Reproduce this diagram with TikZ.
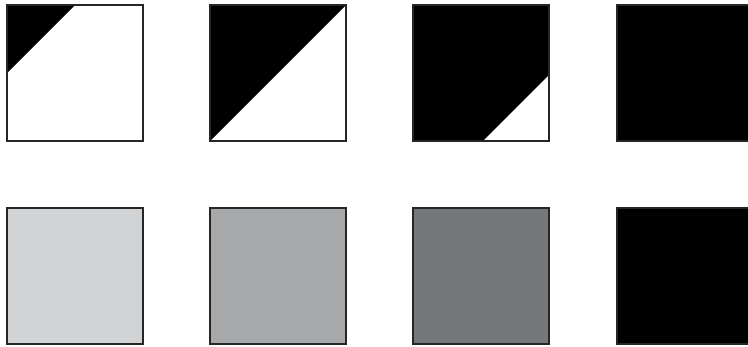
\documentclass[tikz,border=0pt]{standalone}
\usepackage{tikz}

\definecolor{greyA}{HTML}{D2D3D5}
\definecolor{greyB}{HTML}{A7A8AA}
\definecolor{greyC}{HTML}{767779}

\begin{document}
\begin{tikzpicture}[
    x=1pt, y=-1pt,
    tile/.style={draw=black!85, line width=1.1pt},
    shade/.style={fill=black}
]
    \useasboundingbox (0,0) rectangle (748,346);

    % top row
    \fill[white] (7,5) rectangle (143,141);
    \fill[shade] (7,5) -- (75,5) -- (7,73) -- cycle;
    \draw[tile] (7,5) rectangle (143,141);

    \fill[shade] (210,5) -- (346,5) -- (210,141) -- cycle;
    \draw[tile] (210,5) rectangle (346,141);

    \fill[shade] (413,5) rectangle (549,141);
    \fill[white] (549,75) -- (549,141) -- (483,141) -- cycle;
    \draw[tile] (413,5) rectangle (549,141);

    \fill[shade] (617,5) rectangle (753,141);
    \draw[tile] (617,5) rectangle (753,141);

    % bottom row
    \draw[tile, fill=greyA] (7,208) rectangle (143,344);
    \draw[tile, fill=greyB] (210,208) rectangle (346,344);
    \draw[tile, fill=greyC] (413,208) rectangle (549,344);
    \draw[tile, fill=black] (617,208) rectangle (753,344);

\end{tikzpicture}
\end{document}
